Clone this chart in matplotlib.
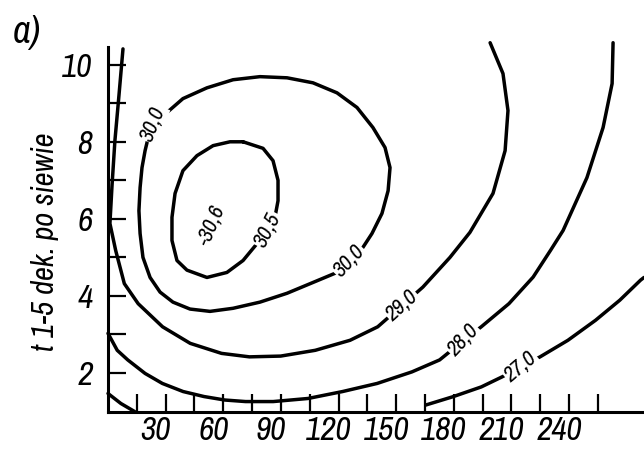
import numpy as np
import matplotlib
matplotlib.use("Agg")
import matplotlib.pyplot as plt
from matplotlib.transforms import ScaledTranslation

# contour lines (x = day, y = t 1-5 dek.)
c305_x = [70.3, 80.7, 85.9, 88.5, 88.5, 86.9, 82.8, 77.6, 70.3, 61.9, 51.5, 41.1, 35.9, 33.3, 33.3, 34.9, 39.0,
          46.3, 54.7, 63.5, 70.3]
c305_y = [8.00, 7.83, 7.51, 7.00, 6.47, 6.04, 5.70, 5.36, 4.92, 4.61, 4.48, 4.67, 4.92, 5.44, 6.04, 6.66, 7.25,
          7.64, 7.90, 8.00, 8.00]

c300_x = [23.4, 30.7, 39.0, 51.5, 65.1, 79.1, 93.2, 106.7, 119.2, 129.6, 137.9, 144.2, 146.8, 145.8, 142.6,
          137.4, 132.7, 126.0, 119.2, 106.7, 93.2, 79.1, 65.1, 53.1, 42.7, 33.8, 27.1, 21.9, 18.2, 16.7, 16.1,
          16.7, 17.7, 19.3, 20.8, 23.4]
c300_y = [8.47, 8.76, 9.12, 9.40, 9.61, 9.69, 9.66, 9.53, 9.27, 8.89, 8.37, 7.85, 7.33, 6.73, 6.14,
          5.62, 5.26, 4.87, 4.61, 4.35, 4.07, 3.84, 3.68, 3.60, 3.66, 3.84, 4.10, 4.48, 5.00, 5.62, 6.21,
          6.81, 7.33, 7.77, 8.08, 8.47]

c290_x = [7.8, 5.7, 3.6, 2.1, 1.0, 4.0, 8.5, 15.7, 28.4, 42.8, 59.1, 73.6, 89.9, 107.9, 126.0, 140.4, 153.0,
          163.9, 178.0, 188.4, 200.4, 206.7, 208.2, 205.6, 198.9]
c290_y = [10.41, 9.20, 8.03, 6.87, 5.88, 5.18, 4.32, 3.80, 3.20, 2.77, 2.51, 2.42, 2.44, 2.59, 2.85, 3.20, 3.75,
          4.23, 5.00, 5.65, 6.66, 7.77, 8.81, 9.77, 10.57]

c280_x = [0.0, 4.8, 10.3, 19.3, 28.3, 39.1, 50.0, 60.8, 71.6, 86.0, 104.1, 122.1, 140.1, 158.2, 172.6, 185.2,
          194.3, 208.7, 221.3, 230.3, 236.9, 249.3, 257.7, 262.4, 262.9]
c280_y = [3.03, 2.59, 2.34, 1.99, 1.73, 1.52, 1.39, 1.30, 1.26, 1.26, 1.34, 1.52, 1.73, 2.03, 2.34, 2.85,
          3.20, 3.80, 4.49, 5.18, 5.70, 7.07, 8.37, 9.51, 10.57]

c270_x = [165.4, 179.8, 194.3, 205.1, 215.0, 224.9, 239.4, 253.8, 266.4, 277.2, 279.0]
c270_y = [1.17, 1.39, 1.64, 1.90, 2.16, 2.42, 2.85, 3.37, 3.89, 4.41, 4.48]
c270b_x = [0.0, 6.7, 13.9]
c270b_y = [1.47, 1.21, 1.0]

# labels on the lines: text, x, y, angle
lab_text = ["30,0", "-30,6", "30,5", "30,0", "29,0", "28,0", "27,0"]
lab_x = [23.4, 54.1, 82.8, 125.7, 153.0, 185.2, 215.0]
lab_y = [8.47, 5.83, 5.72, 4.90, 3.76, 2.85, 2.16]
lab_rot = [68, 67, 63, 47, 42, 47, 40]

xticks = [30, 60, 90, 120, 150, 180, 210, 240]
xminor = [15, 45, 75, 105, 135, 165, 195, 225, 255]
yticks = [2, 4, 6, 8, 10]
yminor = [3, 5, 7, 9]

fam = ["Archivo Narrow", "DejaVu Sans"]
fig = plt.figure(figsize=(6.44, 4.51), dpi=100)
ax = fig.add_axes([0.1677, 0.0874, 0.8323, 0.8093])

lw = 2.5
for xs, ys in [(c305_x, c305_y), (c300_x, c300_y), (c290_x, c290_y),
               (c280_x, c280_y), (c270_x, c270_y), (c270b_x, c270b_y)]:
    ax.plot(xs, ys, color="black", lw=lw, solid_joinstyle="round", solid_capstyle="round",
            clip_on=False, zorder=2)

for t, x, y, r in zip(lab_text, lab_x, lab_y, lab_rot):
    ax.text(x, y, t, rotation=r, ha="center", va="center", fontsize=16, style="italic",
            weight="semibold", family=fam, zorder=3, rotation_mode="anchor",
            bbox=dict(facecolor="white", edgecolor="none", pad=0.8))

ax.set_xlim(0, 279)
ax.set_ylim(1, 10.47)
ax.spines["top"].set_visible(False)
ax.spines["right"].set_visible(False)
ax.spines["left"].set_linewidth(2.2)
ax.spines["bottom"].set_linewidth(2.2)

ax.set_xticks(xticks)
ax.set_xticks(xminor, minor=True)
ax.set_yticks(yticks)
ax.set_yticks(yminor, minor=True)
ax.set_xticklabels([str(v) for v in xticks])
ax.set_yticklabels([str(v) for v in yticks])
ax.tick_params(which="both", direction="in", length=13, width=1.6, color="black")
ax.tick_params(axis="x", which="major", pad=3)
ax.tick_params(axis="y", which="major", pad=11)
for lab in ax.get_xticklabels() + ax.get_yticklabels():
    lab.set_fontstyle("italic")
    lab.set_fontsize(24)
    lab.set_fontweight("semibold")
    lab.set_family(fam)
for lab in ax.get_xticklabels():
    lab.set_transform(lab.get_transform() + ScaledTranslation(-7 / 72, 0, fig.dpi_scale_trans))

ax.set_ylabel("t 1-5 dek. po siewie", fontsize=22, style="italic", weight="semibold", family=fam)
ax.yaxis.set_label_coords(-0.092, 0.465)
fig.text(0.042, 0.928, "a)", fontsize=28, style="italic", family=fam, ha="center", va="center")

fig.savefig("out.png", dpi=100)
